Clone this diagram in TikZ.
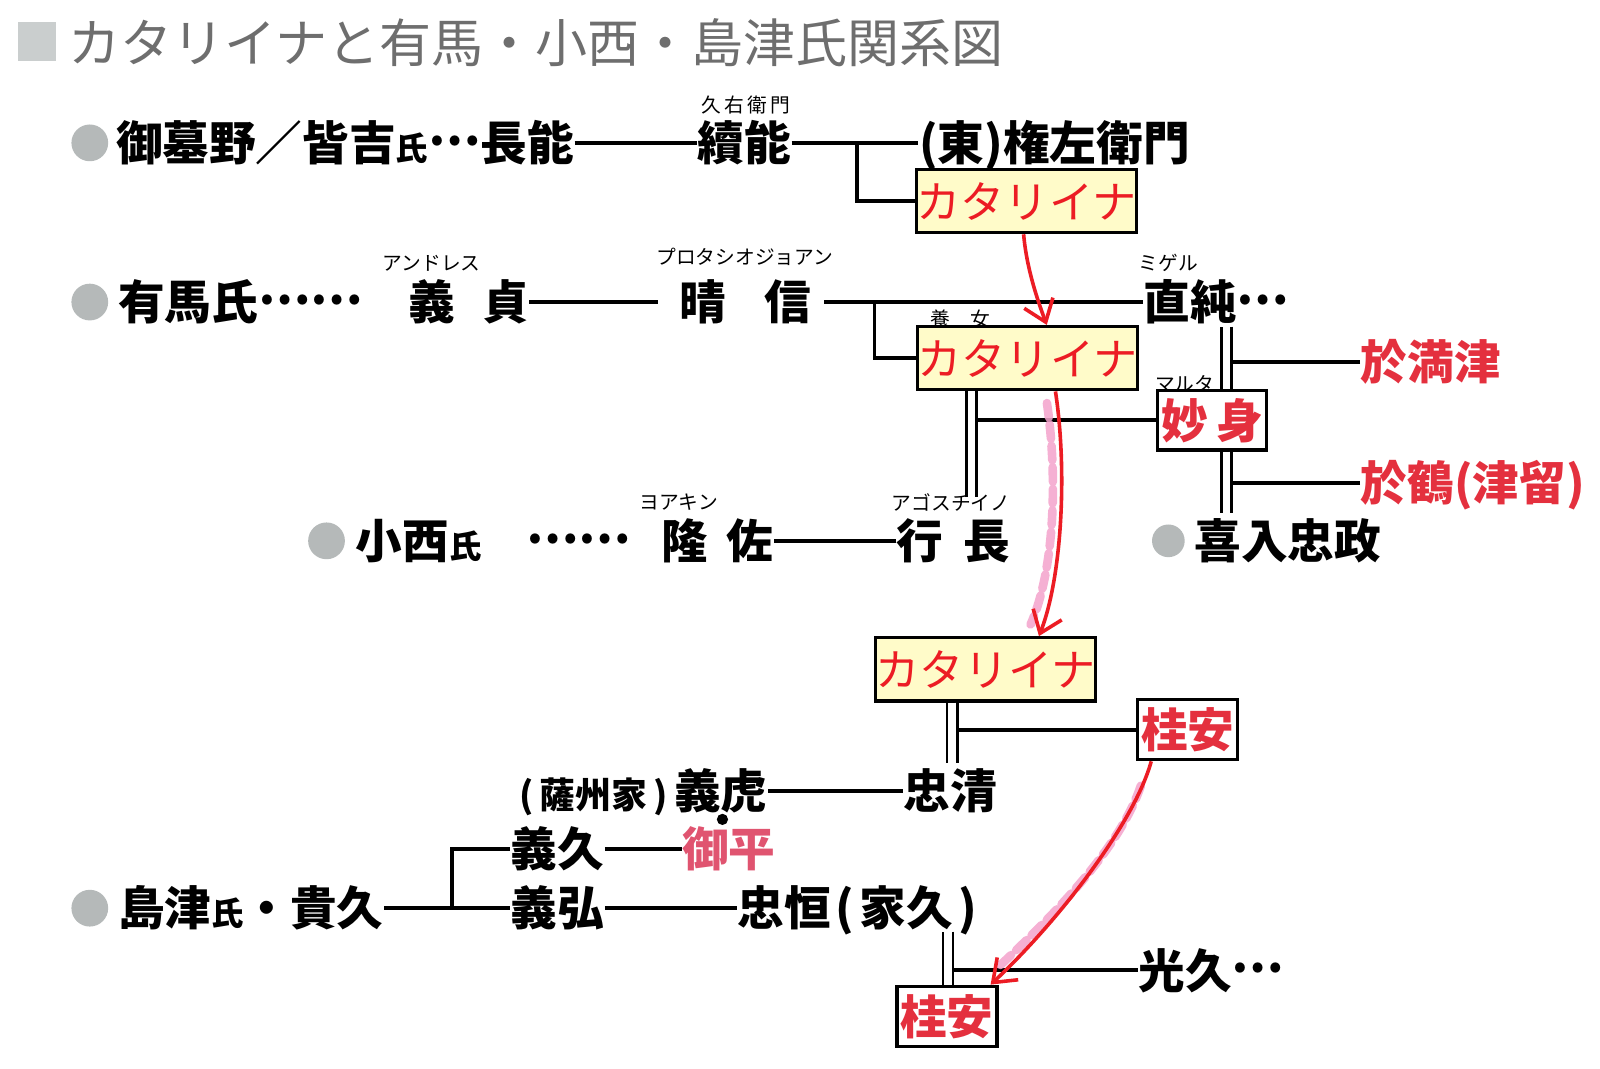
\documentclass[tikz,border=0pt]{standalone}
\usepackage{fontspec}
\setmainfont{Noto Sans CJK JP}
\usetikzlibrary{positioning,arrows.meta}
\definecolor{kred}{HTML}{EC1C24}
\definecolor{ored}{HTML}{E4303E}
\definecolor{gred}{HTML}{E05470}
\definecolor{kyellow}{HTML}{FFFBC9}
\definecolor{dotgray}{HTML}{B5B9B9}
\definecolor{titlegray}{HTML}{6E6E6E}
\definecolor{sqgray}{HTML}{CACECE}
\definecolor{hlpink}{HTML}{F4A3CC}
\newcommand{\uji}{{\fontsize{9pt}{9pt}\selectfont 氏}}
\newcommand{\middots}{\raisebox{0.33em}{…}} % dots at mid height
\begin{document}
\begin{tikzpicture}[
		x=0.01cm, y=-0.01cm,
		person/.style={font=\bfseries\fontsize{13pt}{13pt}\selectfont, inner sep=0pt,
				text height=11.4pt, text depth=1.6pt, anchor=west}, % a name in the tree
		redname/.style={person, text=ored},
		ruby/.style={font=\fontsize{5.5pt}{5.5pt}\selectfont, inner sep=0pt}, % reading above a name
		katbox/.style={draw, line width=0.9pt, fill=kyellow, text=kred, inner sep=0pt,
				font=\fontsize{12.3pt}{12.3pt}\selectfont, minimum width=2.13cm, minimum height=0.62cm},
		redbox/.style={draw, line width=0.9pt, fill=white, text=ored, inner sep=0pt,
				font=\bfseries\fontsize{13pt}{13pt}\selectfont, minimum width=0.98cm, minimum height=0.59cm},
		famdot/.style={circle, fill=dotgray, minimum size=0.36cm, inner sep=0pt},
		link/.style={line width=1.1pt},
		wed/.style={double, double distance=2pt, line width=0.8pt}, % marriage
		redarr/.style={kred, line width=1pt, -{Straight Barb[length=0.2cm,width=0.3cm]}},
		hilite/.style={hlpink, line width=2.4pt, dash pattern=on 4pt off 2pt, line cap=round, opacity=0.85},
	]
	\fill[white] (0,0) rectangle (1568,1047);
	\useasboundingbox (0,0) rectangle (1568,1047);

	% --- title
	\fill[sqgray] (18,22) rectangle (55,60);
	\node[anchor=west, inner sep=0pt, text=titlegray, text height=12.7pt, text depth=1.8pt,
		font=\fontsize{14.5pt}{14.5pt}\selectfont] (title) at (66,42) {カタリイナと有馬・小西・島津氏関系図};

	% --- 御墓野/皆吉
	\node[famdot] (d1) at (88,140) {};
	\node[person] (nagayoshi) at (113,140) {御墓野／皆吉\uji\middots 長能};
	\node[person] (tsuguyoshi) at (683,140) {續能};
	\node[ruby] (r-tsuguyoshi) at (731,103) {久\,右\,衛\,門};
	\node[person] (gonzaemon) at (900,140) {(東)権左衛門};
	\node[katbox] (kat1) at (1006,197) {カタリイナ};
	\coordinate (j1) at (840,140);
	\draw[link] (nagayoshi) -- (tsuguyoshi);
	\draw[link] (tsuguyoshi) -- (gonzaemon);
	\draw[link] (j1) |- (kat1.west);

	% --- 有馬
	\node[famdot] (d2) at (88,296) {};
	\node[person] (arima) at (115,296) {有馬氏\middots\middots};
	\node[person] (yoshisada) at (400,296) {義\hspace{0.26cm}貞};
	\node[ruby] (r-yoshisada) at (423,258) {アンドレス};
	\node[person] (harunobu) at (665,296) {晴\hspace{0.38cm}信};
	\node[ruby] (r-harunobu) at (730,252) {プロタシオジョアン};
	\node[person] (naozumi) at (1120,296) {直純\middots};
	\node[ruby] (r-naozumi) at (1145,258) {ミゲル};
	\node[katbox] (kat2) at (1007,351) {カタリイナ};
	\node[ruby] (r-kat2) at (941,313) {養\hspace{0.2cm}女};
	\coordinate (j2) at (857,296);
	\draw[link] (yoshisada) -- ([xshift=-0.2cm]harunobu.west);
	\draw[link] ([xshift=0.12cm]harunobu.east) -- (naozumi);
	\draw[link] (j2) |- (kat2.west);

	% --- 直純's wives and daughters
	\node[redbox, minimum width=1.07cm, minimum height=0.58cm] (myoshin) at (1188,412) {妙\hspace{0.08cm}身};
	\node[ruby] (r-myoshin) at (1161,376) {マルタ};
	\node[redname] (oman) at (1333,355) {於満津};
	\node[redname] (otsuru) at (1333,473) {於鶴(津留)};
	\coordinate (w1) at (1202,320);
	\coordinate (w1r) at (1207,320);
	\coordinate (w2) at (1202,503);
	\draw[wed] (w1) -- (w1 |- myoshin.north);
	\draw[wed] (w2 |- myoshin.south) -- (w2);
	\draw[link] (oman) -- (oman -| w1r);
	\draw[link] (otsuru) -- (otsuru -| w1r);
	\coordinate (k2) at (952,487);
	\coordinate (k2r) at (957,487);
	\draw[wed] (k2 |- kat2.south) -- (k2);
	\draw[link] (myoshin) -- (myoshin -| k2r);

	% --- 小西
	\node[famdot] (d3) at (320,530) {};
	\node[person] (konishi) at (348,530) {小西\uji};
	\node[person] (ryusa) at (515,530) {\middots\middots\hspace{0.3cm}隆\hspace{0.18cm}佐};
	\node[ruby] (r-ryusa) at (665,492) {ヨアキン};
	\node[person] (yukinaga) at (878,530) {行\hspace{0.2cm}長};
	\node[ruby] (r-yukinaga) at (932,492) {アゴスチイノ};
	\draw[link] (ryusa) -- (yukinaga);
	\node[famdot, minimum size=0.32cm] (d4) at (1145,530) {};
	\node[person] (kiire) at (1170,530) {喜入忠政};

	% --- カタリイナ and 忠清
	\node[katbox] (kat3) at (966,656) {カタリイナ};
	\node[redbox] (keian1) at (1164,715) {桂安};
	\coordinate (k3) at (933,748);
	\coordinate (k3r) at (938,748);
	\draw[wed] (k3 |- kat3.south) -- (k3);
	\draw[link] (keian1) -- (keian1 -| k3r);

	\node[person] (yoshitora) at (660,775) {義虎};
	\node[person, font=\bfseries\fontsize{10pt}{10pt}\selectfont, left=0.05cm of yoshitora] (satsushu) {(\,薩州家\,)};
	\node[person] (tadakiyo) at (885,775) {忠清};
	\draw[link] (yoshitora) -- (tadakiyo);
	\node[circle, fill=black, minimum size=0.11cm, inner sep=0pt] (mark) at (708,803) {};

	% --- 島津
	\node[person] (yoshihisa) at (500,832) {義久};
	\node[person, text=gred] (gohei) at (668,832) {御平};
	\draw[link] (yoshihisa) -- (gohei);
	\node[famdot] (d5) at (88,890) {};
	\node[person] (takahisa) at (115,890) {島津\uji・貴久};
	\node[person] (yoshihiro) at (500,890) {義弘};
	\node[person] (tadatsune) at (722,890) {忠恒\hspace{0.05cm}(\hspace{0.05cm}家久\hspace{0.05cm})};
	\coordinate (j3) at (443,890);
	\draw[link] (takahisa) -- (yoshihiro);
	\draw[link] (j3) |- (yoshihisa);
	\draw[link] (yoshihiro) -- (tadatsune);
	\node[redbox] (keian2) at (928,996) {桂安};
	\node[person] (mitsuhisa) at (1115,951) {光久\middots};
	\coordinate (t1) at (929,913);
	\coordinate (t1r) at (934,913);
	\draw[wed] (t1) -- (t1 |- keian2.north);
	\draw[link] (mitsuhisa) -- (mitsuhisa -| t1r);

	% --- red arrows: how カタリイナ and 桂安 pass on
	\draw[hilite] (1026,395) .. controls (1037,470) and (1033,560) .. (1010,612);
	\draw[hilite] (1118,770) .. controls (1098,830) and (1035,895) .. (978,948);
	\draw[redarr] (kat1.-95) .. controls (1006,262) and (1016,292) .. (kat2.60);
	\draw[redarr] (kat2.-50) .. controls (1046,460) and (1041,565) .. (kat3.32);
	\draw[redarr] (keian1.-139) .. controls (1112,805) and (1040,900) .. (keian2.36);
\end{tikzpicture}
\end{document}
